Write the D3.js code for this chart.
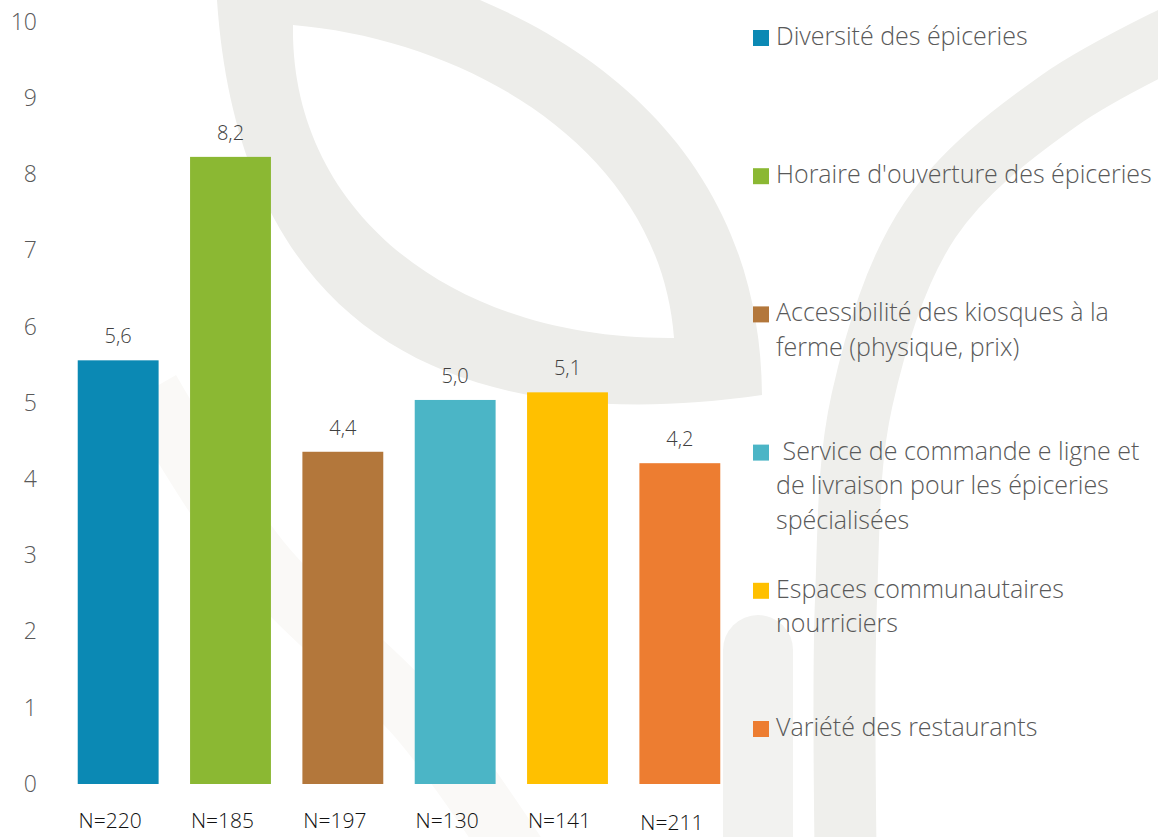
<!DOCTYPE html>
<html>
<head>
<meta charset="utf-8">
<script src="https://cdn.jsdelivr.net/npm/d3@7"></script>
<style>
  body { margin: 0; background: #fff; }
  svg { display: block; font-family: "Open Sans", "Noto Sans", sans-serif; font-weight: 300; }
</style>
</head>
<body>
<svg width="1158" height="837"></svg>
<script>
// Data
var legendLines = [
  ["Diversité des épiceries"],
  ["Horaire d'ouverture des épiceries"],
  ["Accessibilité des kiosques à la", "ferme (physique, prix)"],
  ["\u00a0Service de commande e ligne et", "de livraison pour les épiceries", "spécialisées"],
  ["Espaces communautaires", "nourriciers"],
  ["Variété des restaurants"]
];
var values = [5.56, 8.23, 4.36, 5.04, 5.14, 4.21];
var sampleSizes = ["N=220", "N=185", "N=197", "N=130", "N=141", "N=211"];
var colors = ["#0b89b4", "#8bb833", "#b3773b", "#4bb5c6", "#ffc000", "#ed7d31"];
var yTicks = [0, 1, 2, 3, 4, 5, 6, 7, 8, 9, 10];

var svg = d3.select("svg");

// faint watermark logo in the background
var wm = svg.append("g");
// leaf ring (outer minus inner)
wm.append("path")
  .attr("d", "M215,-60 C500,-40 760,100 762,395 C450,440 215,330 215,-60 Z " +
             "M293,25 C470,40 660,150 674,338 C450,340 290,210 293,25 Z")
  .attr("fill-rule", "evenodd")
  .attr("fill", "#ededea");
var line = d3.line().curve(d3.curveCatmullRom);
wm.append("path")
  .attr("d", line([[1230, 10], [1060, 100], [930, 220], [862, 400], [846, 600], [846, 880]]))
  .attr("fill", "none")
  .attr("stroke", "#efefec").attr("stroke-width", 62);
wm.append("path")
  .attr("d", "M758,880 L758,650")
  .attr("fill", "none").attr("stroke-linecap", "round")
  .attr("stroke", "#f2f2f0").attr("stroke-width", 70);
wm.append("path")
  .attr("d", line([[150, 390], [260, 560], [420, 720], [520, 860]]))
  .attr("fill", "none")
  .attr("stroke", "#faf9f7").attr("stroke-width", 60);

var x = d3.scaleBand()
  .domain(d3.range(values.length))
  .range([62, 736])
  .paddingInner(0.28)
  .paddingOuter(0.14);

var y = d3.scaleLinear()
  .domain([0, 10])
  .range([784, 22]);

// y axis labels (no line, no ticks)
var yAxis = svg.append("g")
  .attr("transform", "translate(37,0)")
  .call(d3.axisLeft(y).tickValues(yTicks).tickSize(0).tickPadding(0));
yAxis.attr("font-family", null).attr("font-size", null);
yAxis.select(".domain").remove();
yAxis.selectAll("text")
  .attr("fill", "#595959")
  .style("font-size", "23px");

// bars
svg.append("g").selectAll("rect")
  .data(values)
  .enter().append("rect")
  .attr("x", function (d, i) { return x(i); })
  .attr("y", function (d) { return y(d); })
  .attr("width", x.bandwidth())
  .attr("height", function (d) { return y(0) - y(d); })
  .attr("fill", function (d, i) { return colors[i]; });

// value labels
svg.append("g").selectAll("text")
  .data(values)
  .enter().append("text")
  .attr("x", function (d, i) { return x(i) + x.bandwidth() / 2; })
  .attr("y", function (d) { return y(d) - 17; })
  .attr("text-anchor", "middle")
  .attr("fill", "#404040")
  .style("font-size", "20px")
  .text(function (d) { return d.toFixed(1).replace(".", ","); });

// sample sizes under the bars
svg.append("g").selectAll("text")
  .data(sampleSizes)
  .enter().append("text")
  .attr("x", function (d, i) { return x(i) + x.bandwidth() / 2 - 8; })
  .attr("y", function (d, i) { return i === 5 ? 830 : 828; })
  .attr("text-anchor", "middle")
  .attr("fill", "#111")
  .style("font-size", "21px")
  .text(function (d) { return d; });

// legend
var legend = svg.append("g").selectAll("g")
  .data(legendLines)
  .enter().append("g")
  .attr("transform", function (d, i) { return "translate(753," + (45 + i * 138.2) + ")"; });

legend.append("rect")
  .attr("y", -15)
  .attr("width", 16)
  .attr("height", 16)
  .attr("fill", function (d, i) { return colors[i]; });

legend.append("text")
  .attr("fill", "#595959")
  .style("font-size", "25px")
  .selectAll("tspan")
  .data(function (d) { return d; })
  .enter().append("tspan")
  .attr("x", 23)
  .attr("dy", function (d, i) { return i === 0 ? 0 : 34.5; })
  .text(function (d) { return d; });
</script>
</body>
</html>
